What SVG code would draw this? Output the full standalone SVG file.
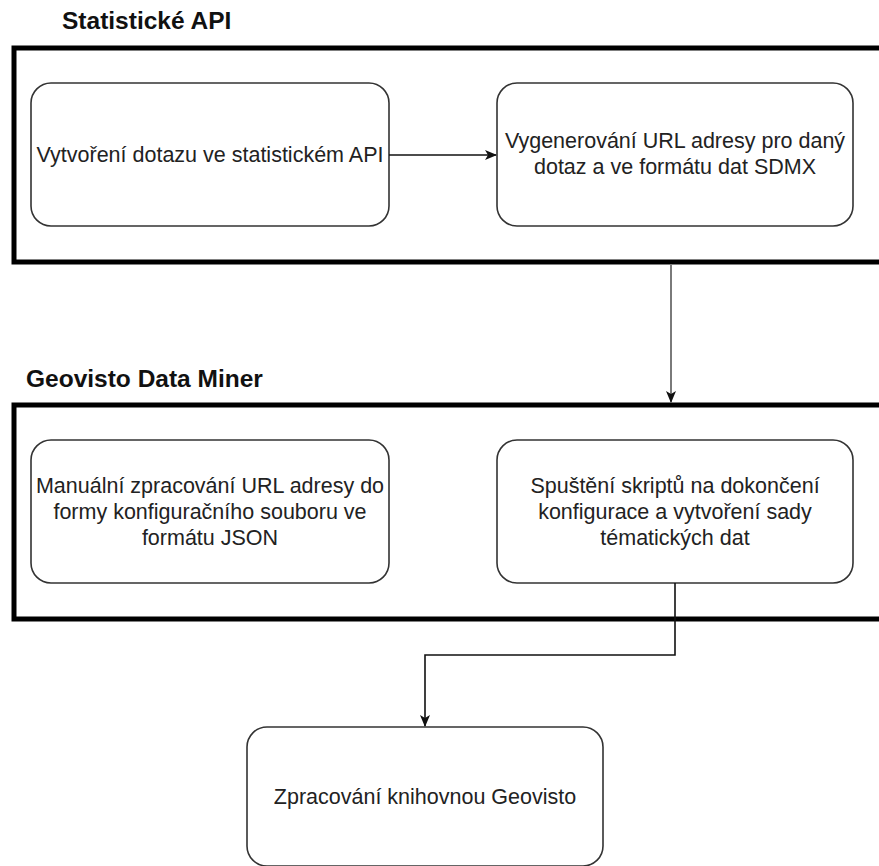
<svg xmlns="http://www.w3.org/2000/svg" width="879" height="866" viewBox="0 0 879 866">
<style>
.container{fill:none;stroke:#000;stroke-width:5}
.node{fill:#fff;stroke:#333;stroke-width:1.6}
.label{font-family:"Liberation Sans",Arial,sans-serif;font-size:21.5px;fill:#222;text-anchor:middle}
.title{font-family:"Liberation Sans",Arial,sans-serif;font-size:24.5px;font-weight:bold;fill:#111}
.edge{fill:none;stroke:#111;stroke-width:1.6}
</style>
<defs>
<marker id="arr" viewBox="0 0 12 10" refX="11" refY="5" markerWidth="12" markerHeight="10" markerUnits="userSpaceOnUse" orient="auto">
<path d="M0,0 L12,5 L0,10 L3,5 Z" fill="#111"/>
</marker>
</defs>
<rect width="879" height="866" fill="#fff"/>
<g id="container-statisticke-api">
<text class="title" x="62" y="29">Statistické API</text>
<rect class="container" x="14" y="48" width="900" height="214"/>
</g>
<g id="container-geovisto-data-miner">
<text class="title" x="26" y="387">Geovisto Data Miner</text>
<rect class="container" x="14" y="405" width="900" height="214"/>
</g>
<g id="node-dotaz">
<rect class="node" x="31" y="83" width="358" height="143" rx="20"/>
<text class="label" x="210" y="162">Vytvoření dotazu ve statistickém API</text>
</g>
<g id="node-url">
<rect class="node" x="497" y="83" width="356" height="143" rx="20"/>
<text class="label" x="675" y="148">Vygenerování URL adresy pro daný</text>
<text class="label" x="675" y="174">dotaz a ve formátu dat SDMX</text>
</g>
<g id="node-manual">
<rect class="node" x="31" y="440" width="358" height="143" rx="20"/>
<text class="label" x="210" y="493">Manuální zpracování URL adresy do</text>
<text class="label" x="210" y="519">formy konfiguračního souboru ve</text>
<text class="label" x="210" y="545">formátu JSON</text>
</g>
<g id="node-skripty">
<rect class="node" x="497" y="440" width="356" height="143" rx="20"/>
<text class="label" x="675" y="493">Spuštění skriptů na dokončení</text>
<text class="label" x="675" y="519">konfigurace a vytvoření sady</text>
<text class="label" x="675" y="545">tématických dat</text>
</g>
<g id="node-geovisto">
<rect class="node" x="247" y="727" width="356" height="139" rx="20"/>
<text class="label" x="425" y="804">Zpracování knihovnou Geovisto</text>
</g>
<g id="connectors">
<path class="edge" d="M389,155 L496,155" marker-end="url(#arr)"/>
<path class="edge" d="M671,265 L671,402" stroke="#777" style="stroke:#7a7a7a;stroke-width:2" marker-end="url(#arr)"/>
<path class="edge" d="M675,583 L675,655 L425,655 L425,726" marker-end="url(#arr)"/>
</g>
</svg>
